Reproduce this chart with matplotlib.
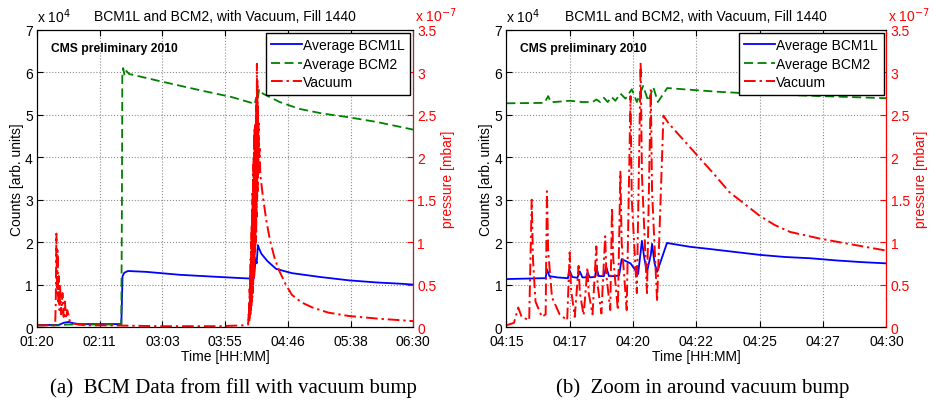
import matplotlib
matplotlib.use("Agg")
import matplotlib.pyplot as plt
from matplotlib.ticker import FixedLocator, FixedFormatter

plt.rcParams['font.family'] = ['Liberation Sans', 'DejaVu Sans']

# ---------------- data: panel (a), time in minutes after 01:20 ----------------
a_xticks = [0, 51.67, 103.33, 155, 206.67, 258.33, 310]
a_xlabels = ["01:20", "02:11", "03:03", "03:55", "04:46", "05:38", "06:30"]

a_bcm1l_t = [0, 18, 22, 26, 30, 35, 69.5, 70.5, 72, 75, 90, 118, 150, 170, 178.5,
             179, 180, 181, 182, 183, 185, 190, 197, 210, 233, 257, 280, 300, 310]
a_bcm1l_v = [0.05, 0.05, 0.1, 0.12, 0.09, 0.07, 0.07, 1.2, 1.28, 1.32, 1.3, 1.23, 1.18, 1.15, 1.14,
             1.2, 1.6, 1.5, 1.93, 1.85, 1.72, 1.55, 1.37, 1.27, 1.18, 1.1, 1.05, 1.02, 1.0]

a_bcm2_t = [0, 18, 25, 35, 69.5, 70, 70.3, 71, 72, 73, 76, 100, 134, 160, 178, 179.5, 180.5,
            181.5, 183, 186, 200, 216, 235, 255, 280, 310]
a_bcm2_v = [0.04, 0.04, 0.06, 0.06, 0.06, 3.0, 5.9, 6.1, 5.95, 6.05, 5.96, 5.8, 5.58, 5.42, 5.27, 5.25, 5.4,
            5.3, 5.6, 5.5, 5.3, 5.14, 5.03, 4.95, 4.83, 4.65]

a_vac_t = [0, 15, 15.5, 16, 16.5, 17, 17.5, 18, 18.5, 19, 20, 21, 22, 23, 24, 25, 27, 30, 40, 60, 100,
           150, 170, 174.0, 174.4, 174.6, 174.8, 175.0, 175.2, 175.4, 175.6, 175.8, 176.0, 176.2,
           176.4, 176.6, 176.8, 177.0, 177.2, 177.4, 177.6, 177.8, 178.0, 178.2, 178.4, 178.6,
           178.8, 179.0, 179.2, 179.4, 179.6, 179.8, 180.0, 180.2, 180.4, 180.6, 180.8, 181.0,
           181.2, 181.4, 181.6, 181.8, 182.0, 182.3, 182.6, 183.0, 183.4, 184, 186, 189, 192,
           196, 200, 205, 210, 218, 227, 240, 257, 280, 310]
a_vac_p = [0.02, 0.02, 0.3, 1.1, 0.4, 0.9, 0.3, 0.6, 0.2, 0.5, 0.15, 0.4, 0.12, 0.3, 0.1, 0.2, 0.07, 0.04,
           0.02, 0.02, 0.01, 0.01, 0.02, 0.03, 0.15, 0.05, 0.3, 0.08, 0.45, 0.1, 0.6, 0.15, 0.8, 0.2,
           1.0, 0.25, 1.2, 0.3, 1.4, 0.35, 1.6, 0.4, 1.8, 0.5, 2.0, 0.6, 2.2, 0.7, 2.35, 0.8, 2.4,
           0.9, 2.3, 1.0, 2.5, 1.1, 2.7, 1.3, 3.1, 1.5, 2.9, 1.6, 2.6, 1.8, 2.4, 2.0, 2.1, 1.8, 1.55,
           1.25, 1.02, 0.8, 0.65, 0.5, 0.38, 0.29, 0.23, 0.17, 0.13, 0.1, 0.07]

# ---------------- data: panel (b), time in minutes after 04:15 ----------------
b_xticks = [0, 2.5, 5, 7.5, 10, 12.5, 15]
b_xlabels = ["04:15", "04:17", "04:20", "04:22", "04:25", "04:27", "04:30"]

b_bcm1l_t = [0, 1.4, 1.55, 1.6, 1.7, 2.0, 2.43, 2.48, 2.6, 2.8, 2.9, 3.0, 3.15, 3.2, 3.3, 3.5, 3.55,
             3.65, 3.85, 3.94, 4.05, 4.3, 4.45, 4.55, 4.9, 5.2, 5.35, 5.45, 5.55, 5.7, 5.75, 5.85,
             5.95, 6.34, 7.25, 8.0, 9.0, 10.0, 11, 12, 13, 14, 15]
b_bcm1l_v = [1.13, 1.15, 1.15, 1.36, 1.2, 1.17, 1.15, 1.35, 1.18, 1.16, 1.31, 1.17, 1.17, 1.28, 1.17,
             1.18, 1.4, 1.2, 1.2, 1.42, 1.2, 1.2, 1.22, 1.6, 1.5, 1.25, 2.03, 1.6, 1.3, 1.7, 1.96,
             1.5, 1.3, 1.98, 1.89, 1.84, 1.77, 1.7, 1.65, 1.62, 1.57, 1.53, 1.5]

b_bcm2_t = [0, 1.5, 1.65, 1.75, 1.9, 2.5, 3.0, 3.4, 3.55, 3.7, 3.85, 4.0, 4.15, 4.3, 4.5, 4.7,
            4.95, 5.15, 5.4, 5.6, 5.8, 5.98, 6.35, 7.0, 8.4, 10, 12.4, 15]
b_bcm2_v = [5.27, 5.28, 5.44, 5.3, 5.3, 5.33, 5.3, 5.3, 5.36, 5.3, 5.4, 5.3, 5.42, 5.33, 5.5, 5.38,
            5.6, 5.3, 5.68, 5.32, 5.65, 5.3, 5.63, 5.6, 5.54, 5.49, 5.44, 5.39]

b_vac_t = [0.0, 0.3, 0.47, 0.6, 0.9, 1.0, 1.05, 1.15, 1.4, 1.55, 1.6, 1.65, 1.8, 2.1, 2.4, 2.5, 2.55,
           2.7, 2.85, 2.9, 3.05, 3.2, 3.25, 3.4, 3.55, 3.6, 3.75, 3.9, 3.95, 4.1, 4.17, 4.22, 4.4,
           4.5, 4.55, 4.75, 4.9, 4.95, 5.15, 5.3, 5.35, 5.55, 5.7, 5.75, 5.95, 6.2, 6.4, 7.0, 7.6,
           8.2, 8.8, 9.4, 10.0, 10.6, 11.2, 11.8, 12.4, 13.5, 15.0]
b_vac_p = [0.02, 0.05, 0.23, 0.12, 0.08, 1.5, 0.8, 0.3, 0.12, 0.15, 1.6, 0.9, 0.35, 0.15, 0.08, 0.88,
           0.45, 0.12, 0.72, 0.4, 0.14, 0.7, 0.4, 0.15, 0.95, 0.5, 0.16, 1.07, 0.6, 0.2, 1.41, 0.8,
           0.2, 1.83, 1.0, 0.2, 2.72, 1.5, 0.4, 3.12, 1.8, 0.4, 2.8, 1.6, 0.3, 2.49, 2.4, 2.2, 2.0,
           1.8, 1.59, 1.45, 1.31, 1.2, 1.12, 1.08, 1.04, 0.98, 0.9]

left_yticks = [0, 1, 2, 3, 4, 5, 6, 7]
left_ylabels = ["0", "1", "2", "3", "4", "5", "6", "7"]
right_yticks = [0, 0.5, 1, 1.5, 2, 2.5, 3, 3.5]
right_ylabels = ["0", "0.5", "1", "1.5", "2", "2.5", "3", "3.5"]

title = "BCM1L and BCM2, with Vacuum, Fill 1440"
captions = ["(a)  BCM Data from fill with vacuum bump", "(b)  Zoom in around vacuum bump"]

BLUE = "#0000ff"
GREEN = "#008000"
RED = "#ff0000"

fig = plt.figure(figsize=(9.36, 4.06), dpi=100)

panels = [
    ([0.0395, 0.192, 0.402, 0.732], a_xticks, a_xlabels, (0, 310),
     a_bcm1l_t, a_bcm1l_v, a_bcm2_t, a_bcm2_v, a_vac_t, a_vac_p, 0.249),
    ([0.541, 0.192, 0.406, 0.732], b_xticks, b_xlabels, (0, 15),
     b_bcm1l_t, b_bcm1l_v, b_bcm2_t, b_bcm2_v, b_vac_t, b_vac_p, 0.751),
]

for i, (pos, xt, xl, xlim, t1, v1, t2, v2, tv, pv, cx) in enumerate(panels):
    ax = fig.add_axes(pos)
    l1, = ax.plot(t1, v1, color=BLUE, lw=1.3, ls='-', label="Average BCM1L")
    l2, = ax.plot(t2, v2, color=GREEN, lw=1.3, ls=(0, (5, 2.5)), label="Average BCM2")
    ax.set_xlim(*xlim)
    ax.set_ylim(0, 7)
    ax.xaxis.set_major_locator(FixedLocator(xt))
    ax.xaxis.set_major_formatter(FixedFormatter(xl))
    ax.yaxis.set_major_locator(FixedLocator(left_yticks))
    ax.yaxis.set_major_formatter(FixedFormatter(left_ylabels))
    ax.grid(True, ls=':', color='0.55', lw=0.8)
    ax.tick_params(direction='in', length=4, labelsize=10, top=True, right=False)
    ax.tick_params(axis='x', pad=5)
    ax.tick_params(axis='y', pad=3)
    ax.set_xlabel("Time [HH:MM]", fontsize=10, labelpad=1)
    ax.set_ylabel("Counts [arb. units]", fontsize=10, labelpad=1)
    ax.set_title(title, fontsize=10, pad=7)
    ax.text(0.0, 1.015, r"x 10$^{4}$", transform=ax.transAxes, fontsize=10,
            ha='left', va='bottom')
    ax.text(0.037, 0.94, "CMS preliminary 2010", transform=ax.transAxes, fontsize=8.7,
            fontweight='bold', ha='left', va='center')

    ax2 = ax.twinx()
    l3, = ax2.plot(tv, pv, color=RED, lw=1.4, ls=(0, (6, 2, 1.2, 2)), label="Vacuum")
    ax2.set_ylim(0, 3.5)
    ax2.set_xlim(*xlim)
    ax2.yaxis.set_major_locator(FixedLocator(right_yticks))
    ax2.yaxis.set_major_formatter(FixedFormatter(right_ylabels))
    ax2.tick_params(direction='in', length=4, labelsize=10, colors=RED, pad=3)
    ax2.spines['right'].set_color(RED)
    ax2.set_ylabel("pressure [mbar]", color=RED, fontsize=10, labelpad=3)
    ax2.text(1.005, 1.02, r"x 10$^{-7}$", transform=ax2.transAxes, fontsize=10,
             ha='left', va='bottom', color=RED)

    leg = ax2.legend(handles=[l1, l2, l3], loc='upper right', fontsize=10,
                     borderaxespad=0.2, fancybox=False, framealpha=1, edgecolor='black',
                     handlelength=2.2, handletextpad=0.1, labelspacing=0.33,
                     borderpad=0.4)
    leg.get_frame().set_linewidth(1.0)

    fig.text(cx, 0.044, captions[i], fontsize=15, family=['Liberation Serif', 'DejaVu Serif'],
             ha='center', va='center')

fig.savefig("out.png", dpi=100)
